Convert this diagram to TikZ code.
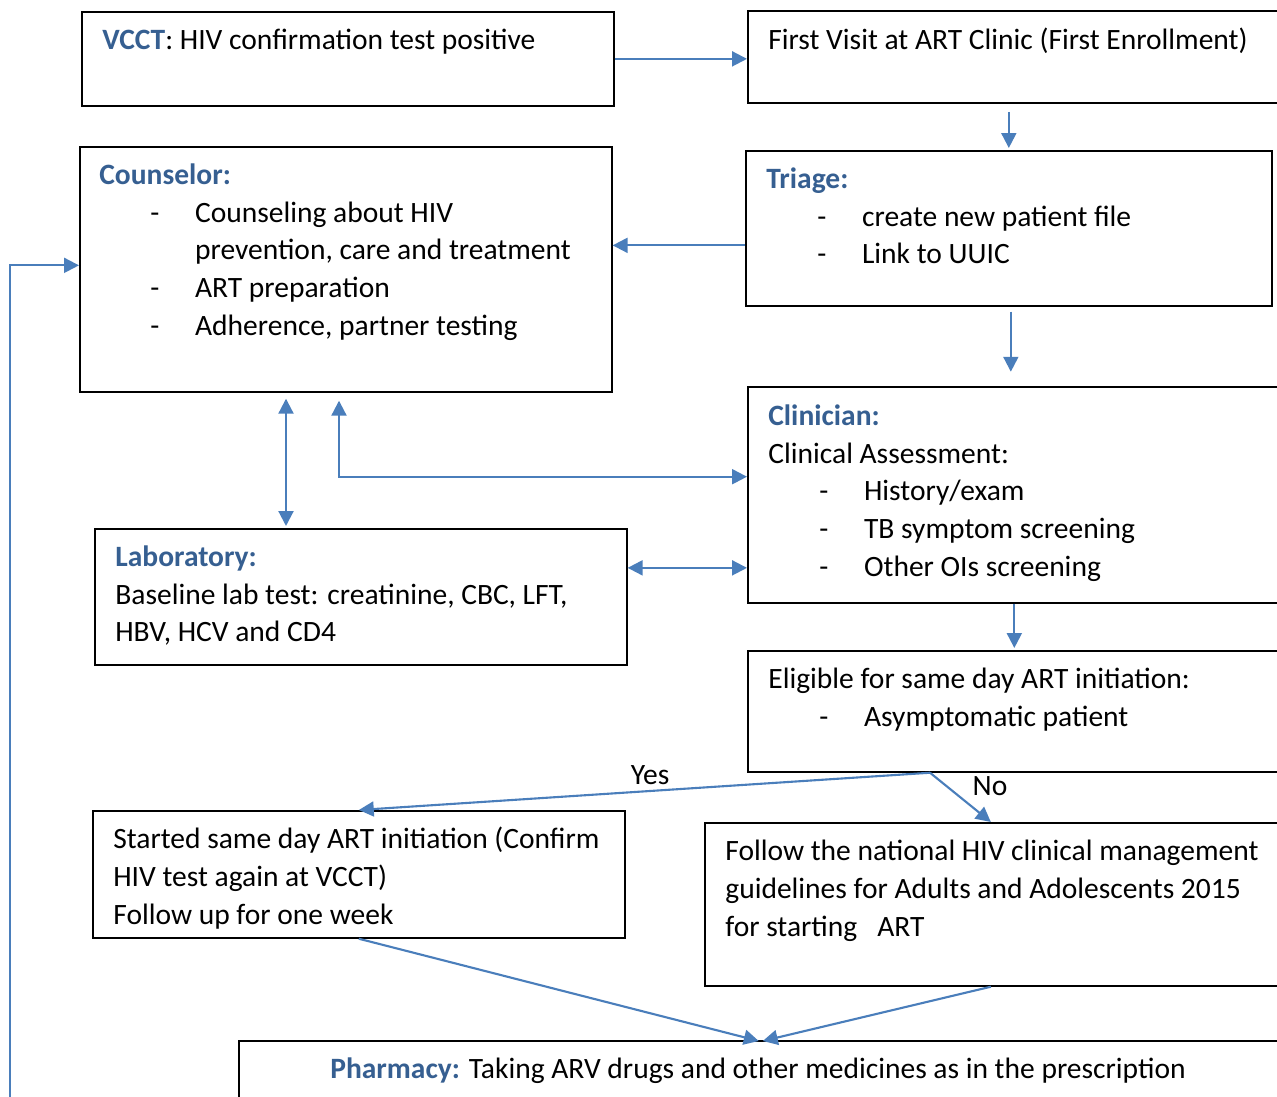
\documentclass[tikz,border=0pt]{standalone}
\usepackage{fontspec}
\setmainfont{Carlito}
\usepackage{xcolor}
\usepackage{tikz}
\usetikzlibrary{arrows.meta, calc, positioning}

\definecolor{ttlblue}{RGB}{54,95,145}
\definecolor{arrblue}{RGB}{74,126,187}
\newcommand{\ttl}[1]{\textcolor{ttlblue}{\textbf{#1}}}
\newcommand{\dashitem}[1]{\makebox[54.5pt][l]{\hspace*{29pt}-}#1}
\newcommand{\dashcont}[1]{\hspace*{54.5pt}#1}

\begin{document}
\begin{tikzpicture}[x=0.02cm,y=-0.02cm,
  box/.style={draw, line width=1pt, rectangle, anchor=north west, inner sep=0pt},
  txt/.style={anchor=north west, inner sep=0pt, align=left, font=\fontsize{16.8}{21.6}\selectfont},
  lbl/.style={inner sep=0pt, font=\fontsize{16.8}{21.6}\selectfont},
  arr/.style={draw=arrblue, line width=1.2pt, -{Triangle[length=8.5pt,width=8.5pt]}},
  darr/.style={draw=arrblue, line width=1.2pt, {Triangle[length=8.5pt,width=8.5pt]}-{Triangle[length=8.5pt,width=8.5pt]}}]
  \clip (0,0) rectangle (1277,1097);

  % Boxes
  \node[box, minimum width=10.64cm, minimum height=1.88cm] (vcct) at (81,11) {};
  \node[box, minimum width=10.86cm, minimum height=1.84cm] (visit) at (747,10) {};
  \node[box, minimum width=10.64cm, minimum height=4.90cm] (couns) at (79,146) {};
  \node[box, minimum width=10.52cm, minimum height=3.10cm] (triage) at (745,150) {};
  \node[box, minimum width=10.86cm, minimum height=4.32cm] (clin) at (747,386) {};
  \node[box, minimum width=10.64cm, minimum height=2.72cm] (lab) at (94,528) {};
  \node[box, minimum width=10.86cm, minimum height=2.42cm] (elig) at (747,650) {};
  \node[box, minimum width=10.64cm, minimum height=2.54cm] (start) at (92,810) {};
  \node[box, minimum width=11.72cm, minimum height=3.26cm] (natl) at (704,822) {};
  \node[box, minimum width=21.04cm, minimum height=2.40cm] (pharm) at (238,1040) {};

  % Texts
  \node[txt] (vcctT) at (102,29) {\ttl{VCCT}: HIV confirmation test positive};
  \node[txt] (visitT) at (768,28) {First Visit at ART Clinic (First Enrollment)};
  \node[txt] (counsT) at (99,163) {\ttl{Counselor:}\\
    \dashitem{Counseling about HIV}\\
    \dashcont{prevention, care and treatment}\\
    \dashitem{ART preparation}\\
    \dashitem{Adherence, partner testing}};
  \node[txt] (triageT) at (766,167) {\ttl{Triage:}\\
    \dashitem{create new patient file}\\
    \dashitem{Link to UUIC}};
  \node[txt] (clinT) at (768,404) {\ttl{Clinician:}\\
    Clinical Assessment:\\
    \dashitem{History/exam}\\
    \dashitem{TB symptom screening}\\
    \dashitem{Other OIs screening}};
  \node[txt] (labT) at (115,545) {\ttl{Laboratory:}\\
    Baseline lab test: creatinine, CBC, LFT,\\
    HBV, HCV and CD4};
  \node[txt] (eligT) at (768,668) {Eligible for same day ART initiation:\\
    \dashitem{Asymptomatic patient}};
  \node[txt] (startT) at (113,827) {Started same day ART initiation (Confirm\\
    HIV test again at VCCT)\\
    Follow up for one week};
  \node[txt] (natlT) at (725,840) {Follow the national HIV clinical management\\
    guidelines for Adults and Adolescents 2015\\
    for starting\ \ \ ART};
  \node[lbl] (pharmT) at (758,1071) {\ttl{Pharmacy:} Taking ARV drugs and other medicines as in the prescription};

  % Connectors
  \draw[arr] (vcct.east) -- (vcct.east -| visit.west);
  \draw[arr] ($(triage.north)+(0,-38)$) -- ($(triage.north)+(0,-2)$);
  \draw[arr] ($(triage.west)+(0,17)$) -- ($(couns.east |- triage.west)+(0,17)$);
  \draw[arr] ($(triage.south)+(2,5)$) -- ($(triage.south)+(2,65)$);
  \draw[darr] ($(couns.south west)+(207,6)$) -- ($(lab.north -| couns.south west)+(207,-2)$);
  \coordinate (bend) at ($(couns.south west)+(260,84)$);
  \draw[darr] ($(couns.south west)+(260,8)$) -- (bend) -- (bend -| clin.west);
  \draw[darr] ($(lab.east)+(0,-29)$) -- ($(lab.east -| clin.west)+(0,-29)$);
  \draw[arr] ($(clin.south)+(-5,0)$) -- ($(elig.north)+(-5,-2)$);
  \coordinate (split) at ($(elig.south west)+(183,0)$);
  \draw[arr] (split) -- node[lbl, pos=0.49, above=3pt] {Yes} (start.north);
  \draw[arr] (split) -- ($(natl.north)+(-7,0)$);
  \node[lbl] (noT) at (990,786) {No};
  \draw[arr] (start.south) -- ($(pharm.north)+(-6,1)$);
  \draw[arr] ($(natl.south)+(-7,0)$) -- ($(pharm.north)+(-2,1)$);
  \coordinate (fb) at (10,1110);
  \draw[arr] (fb) |- ($(couns.west)+(0,-4)$);
\end{tikzpicture}
\end{document}
